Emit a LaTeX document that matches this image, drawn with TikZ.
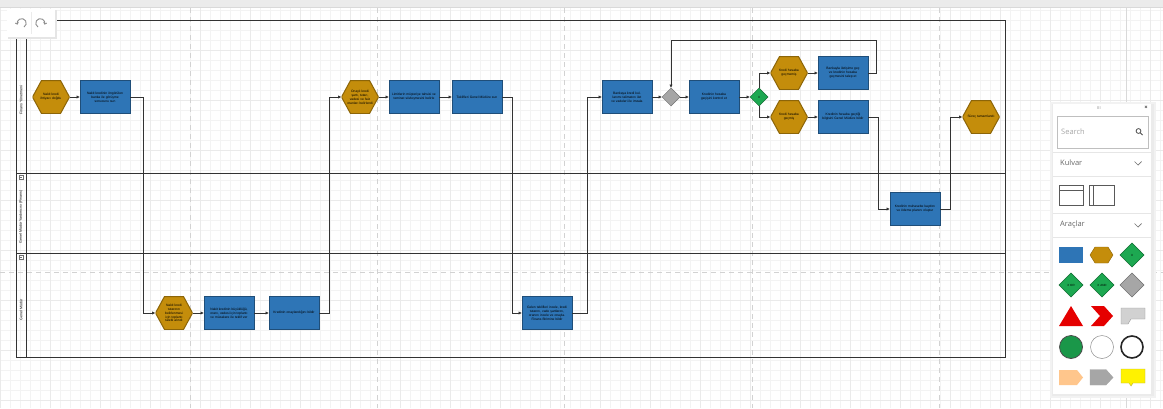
\documentclass[tikz,border=0pt]{standalone}
\usepackage{fontspec}
\setmainfont{Liberation Sans}
\newfontfamily\panelfont{Open Sans}
\usetikzlibrary{shapes.geometric,arrows.meta}
\definecolor{gold}{HTML}{C48D0B}
\definecolor{goldborder}{HTML}{8C6508}
\definecolor{boxblue}{HTML}{2E75B6}
\definecolor{boxborder}{HTML}{1F4E79}
\definecolor{xgreen}{HTML}{1DA851}
\definecolor{xgreenb}{HTML}{0E6B30}
\definecolor{dgray}{HTML}{A6A6A6}
\definecolor{dgrayb}{HTML}{707070}
\definecolor{lanecol}{HTML}{333333}
\definecolor{gridc}{HTML}{F3F3F3}
\definecolor{gridm}{HTML}{EAEAEA}
\definecolor{dashc}{HTML}{D2D2D2}
\definecolor{ptext}{HTML}{666666}
\definecolor{psep}{HTML}{E6E6E6}
\newcommand\tinyf{\fontsize{3.3}{3.9}\selectfont}
\begin{document}
\begin{tikzpicture}[x=1pt,y=-1pt,
  proc/.style={rectangle, draw=boxborder, fill=boxblue, line width=0.5pt, minimum width=50pt, minimum height=33pt, text width=46pt, align=center, inner sep=0pt, font=\tinyf},
  evt/.style={rectangle, minimum width=37pt, minimum height=33pt, inner sep=0pt, text width=28pt, align=center, font=\tinyf,
    path picture={\filldraw[fill=gold, draw=goldborder, line width=1pt]
      (path picture bounding box.west) -- ([xshift=9pt]path picture bounding box.north west) -- ([xshift=-9pt]path picture bounding box.north east) -- (path picture bounding box.east) -- ([xshift=-9pt]path picture bounding box.south east) -- ([xshift=9pt]path picture bounding box.south west) -- cycle;}},
  gate/.style={diamond, aspect=1, minimum width=18pt, minimum height=18pt, inner sep=0pt, line width=0.5pt, font=\fontsize{3}{3.5}\selectfont},
  conn/.style={draw=lanecol, line width=0.7pt, -{Triangle[length=3.2pt,width=2.8pt]}},
  lanelbl/.style={rotate=90, font=\fontsize{3.6}{4.2}\selectfont},
  pagebreak/.style={dashc, line width=1pt, dash pattern=on 5pt off 4pt},
  sep/.style={psep, line width=0.6pt},
  ptxt/.style={font=\panelfont\fontsize{7.5}{9}\selectfont, text=ptext, anchor=west, inner sep=0pt}
]
\useasboundingbox (0,0) rectangle (1163,408);
\fill[white] (0,0) rectangle (1163,408);
% grid
\foreach \x in {0,10,...,1160} \draw[gridc, line width=0.4pt] (\x,8) -- (\x,408);
\foreach \y in {10,20,...,400} \draw[gridc, line width=0.4pt] (0,\y) -- (1163,\y);
\foreach \x in {0,50,...,1150} \draw[gridm, line width=0.4pt] (\x,8) -- (\x,408);
\foreach \y in {50,100,...,400} \draw[gridm, line width=0.4pt] (0,\y) -- (1163,\y);
% top strip and page edge
\fill[black!8] (0,0) rectangle (1163,7);
\draw[black!15, line width=0.8pt] (0,7.5) -- (1163,7.5);
\draw[black!15, line width=1pt] (1126,8) -- (1126,408);
% page breaks
\foreach \x in {190,377,564,752,939} \draw[pagebreak] (\x,8) -- (\x,408);
\draw[pagebreak] (0,272) -- (1163,272);
% pool and lanes
\draw[lanecol, line width=0.8pt] (16,20) rectangle (1005,357);
\draw[lanecol, line width=0.8pt] (26,20) -- (26,357);
\draw[lanecol, line width=0.8pt] (16,173) -- (1005,173);
\draw[lanecol, line width=0.8pt] (16,253) -- (1005,253);
\node[lanelbl] (l1) at (21,100) {Finans Yönetmeni};
\node[lanelbl] (l2) at (21,217) {Genel Müdür Yardımcısı (Finans)};
\node[lanelbl] (l3) at (21,310) {Genel Müdür};
\foreach \yy in {177,257} {
  \draw[lanecol!70, line width=0.4pt, fill=white] (18.8,\yy-2.2) rectangle (23.2,\yy+2.2);
  \draw[lanecol!70, line width=0.4pt] (19.8,\yy) -- (22.2,\yy);
}
% undo / redo toolbar
\fill[black!10] (8,10) rectangle (57,39);
\fill[white] (7,9) rectangle (55,37);
\draw[black!8] (31,12) -- (31,34);
\draw[black!45, line width=0.9pt, -{Straight Barb[length=1.6pt]}] (24,27) arc[start angle=-60, end angle=200, radius=4.5pt];
\draw[black!45, line width=0.9pt, -{Straight Barb[length=1.6pt]}] (38,27) arc[start angle=240, end angle=-20, radius=4.5pt];
% ---- nodes ----
\node[evt] (H1) at (51,97) {Nakit kredi ihtiyacı doğdu};
\node[proc] (B1) at (105,97) {Nakit kredinin öngörülen banka ile görüşme sonucunu sun};
\node[evt, text width=25pt] (H2) at (174,313) {Nakit kredi tutarının belirlenmesi için toplantı talebi alındı};
\node[proc] (B2) at (229,313) {Nakit kredinin büyüklüğü, oranı, vadesi için toplantı ve müzakere ile teklif ver};
\node[proc] (B3) at (294,313) {Kredinin onaylandığını bildir};
\node[evt] (H3) at (360,97) {Onaylı kredi şartı, tutarı, vadesi ve faiz oranları belirlendi};
\node[proc] (B4) at (414,97) {Limitlerin müşteriye tahsisi ve teminat sözleşmesini belirle};
\node[proc] (B5) at (477,97) {Teklifleri Genel Müdüre sun};
\node[proc] (B6) at (547,313) {Gelen teklifleri incele, kredi tutarını, vade şartlarını, oranını incele ve onayla. Finans Birimine bildir};
\node[proc] (B7) at (627,97) {Bankaya kredi kullanımı talimatını ilet ve vadeleri ile imzala};
\node[gate, fill=dgray, draw=dgrayb] (D1) at (671,97) {};
\node[proc] (B8) at (714,97) {Kredinin hesaba geçişini kontrol et};
\node[gate, fill=xgreen, draw=xgreenb] (D2) at (759,97) {X};
\node[evt] (H4) at (789,73) {Kredi hesaba geçmemiş};
\node[proc] (B9) at (843,73) {Bankayla iletişime geç ve kredinin hesaba geçmesini talep et};
\node[evt] (H5) at (789,117) {Kredi hesaba geçmiş};
\node[proc] (B10) at (843,117) {Kredinin hesaba geçtiği bilgisini Genel Müdüre bildir};
\node[proc] (B11) at (915,209) {Kredinin muhasebe kaydını ve ödeme planını oluştur};
\node[evt] (H6) at (981,117) {Süreç tamamlandı};
% ---- connectors ----
\draw[conn] (H1.east) -- (B1.west);
\draw[conn] (B1.east) -- ++(13,0) |- (H2.west);
\draw[conn] (H2.east) -- (B2.west);
\draw[conn] (B2.east) -- (B3.west);
\draw[conn] (B3.east) -- ++(10,0) |- (H3.west);
\draw[conn] (H3.east) -- (B4.west);
\draw[conn] (B4.east) -- (B5.west);
\draw[conn] (B5.east) -- ++(10,0) |- (B6.west);
\draw[conn] (B6.east) -- ++(15,0) |- (B7.west);
\draw[conn] (B7.east) -- (D1.west);
\draw[conn] (D1.east) -- (B8.west);
\draw[conn] (B8.east) -- (D2.west);
\draw[conn] (D2.north) |- (H4.west);
\draw[conn] (D2.south) |- (H5.west);
\draw[conn] (H4.east) -- (B9.west);
\draw[conn] (H5.east) -- (B10.west);
\draw[conn] (B9.east) -- ++(8,0) -- ++(0,-33) -| (D1.north);
\draw[conn] (B10.east) -- ++(10,0) |- (B11.west);
\draw[conn] (B11.east) -- ++(10,0) |- (H6.west);
% ---- tool panel ----
\fill[black!5] (1050,102) rectangle (1156,398);
\fill[black!8] (1052,104) rectangle (1154,396);
\fill[white] (1053,104) rectangle (1151,394);
\node[font=\panelfont\fontsize{4}{4}\selectfont, text=black!50] (grip) at (1099,108) {III};
\node[font=\panelfont\bfseries\fontsize{6}{6}\selectfont, text=black!70] (close) at (1146,108) {×};
\draw[black!25, line width=0.6pt] (1057,116) rectangle (1148,148);
\node[ptxt, text=black!35] (search) at (1061,132) {Search};
\draw[black!70, line width=0.8pt] (1138.5,131) circle[radius=2.4pt];
\draw[black!70, line width=1pt] (1140.3,132.8) -- (1142.5,135);
\draw[sep] (1053,152) -- (1151,152);
\node[ptxt] (kulvar) at (1060,163) {Kulvar};
\draw[black!55, line width=0.7pt] (1134.5,161.5) -- (1138,165) -- (1141.5,161.5);
\draw[sep] (1053,176) -- (1151,176);
\draw[black!65, line width=0.8pt] (1059,185) rectangle (1083,205);
\draw[black!65, line width=0.8pt] (1059,190) -- (1083,190);
\draw[black!65, line width=0.8pt] (1089,185) rectangle (1114,205);
\draw[black!65, line width=0.8pt] (1093,185) -- (1093,205);
\draw[sep] (1053,213) -- (1151,213);
\node[ptxt] (aral) at (1060,225) {Araçlar};
\draw[black!55, line width=0.7pt] (1134.5,223.5) -- (1138,227) -- (1141.5,223.5);
\draw[sep] (1053,237) -- (1151,237);
% row 1
\fill[boxblue] (1059,247) rectangle (1083,263);
\filldraw[fill=gold, draw=goldborder, line width=0.4pt] (1090,255) -- (1095,247) -- (1108,247) -- (1113,255) -- (1108,263) -- (1095,263) -- cycle;
\filldraw[fill=xgreen, draw=xgreenb, line width=0.5pt] (1132,243) -- (1144,255) -- (1132,267) -- (1120,255) -- cycle;
\node[font=\fontsize{3}{3}\selectfont] (px) at (1132,255) {X};
% row 2
\filldraw[fill=xgreen, draw=xgreenb, line width=0.5pt] (1071,273) -- (1083,285) -- (1071,297) -- (1059,285) -- cycle;
\node[font=\fontsize{3}{3}\selectfont] (pxor) at (1071,285) {X OR};
\filldraw[fill=xgreen, draw=xgreenb, line width=0.5pt] (1102,273) -- (1114,285) -- (1102,297) -- (1090,285) -- cycle;
\node[font=\fontsize{3}{3}\selectfont] (pand) at (1102,285) {X AND};
\filldraw[fill=dgray, draw=dgrayb, line width=0.5pt] (1132,273) -- (1144,285) -- (1132,297) -- (1120,285) -- cycle;
% row 3
\fill[red!90!black] (1059,326) -- (1071,306) -- (1083,326) -- cycle;
\fill[red!90!black] (1091,306) -- (1104,306) -- (1113,316) -- (1104,326) -- (1091,326) -- (1100,316) -- cycle;
\filldraw[fill=black!18, draw=black!40, line width=0.4pt] (1121,308) -- (1145,308) -- (1145,319) -- (1131,319) -- (1128,324) -- (1121,324) -- cycle;
% row 4
\filldraw[fill=xgreen!90!black, draw=black!70, line width=0.8pt] (1071,347) circle[radius=11.5pt];
\draw[black!45, line width=0.5pt] (1102,347) circle[radius=11.5pt];
\draw[black!85, line width=1.6pt] (1132,347) circle[radius=11pt];
% row 5
\fill[orange!45!white] (1059,370) -- (1077,370) -- (1083,377.5) -- (1077,385) -- (1059,385) -- cycle;
\filldraw[fill=dgray, draw=dgray] (1090,369.5) -- (1106,369.5) -- (1113,377.5) -- (1106,385) -- (1090,385) -- cycle;
\filldraw[fill=yellow, draw=yellow!70!black, line width=0.4pt] (1121,369) -- (1145,369) -- (1145,383) -- (1133,383) -- (1131,386) -- (1129,383) -- (1121,383) -- cycle;
\end{tikzpicture}
\end{document}
